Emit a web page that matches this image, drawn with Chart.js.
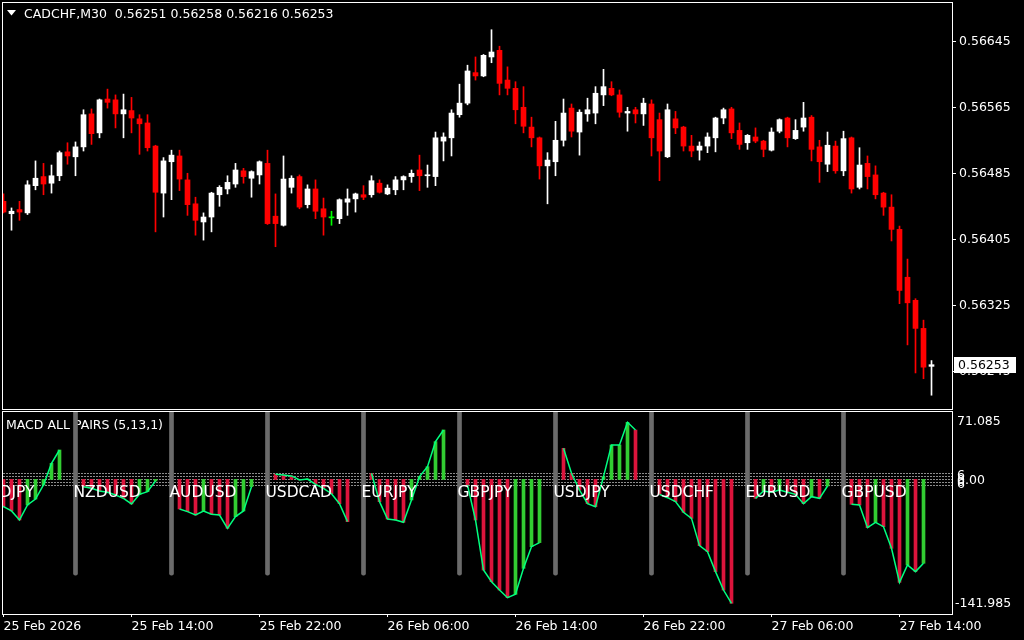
<!DOCTYPE html>
<html lang="en">
<head>
<meta charset="UTF-8">
<title>CADCHF,M30 - MACD ALL PAIRS</title>
<style>
    html, body {
        margin: 0;
        padding: 0;
        background: #000;
    }

    body {
        position: relative;
        width: 1024px;
        height: 640px;
        overflow: hidden;
    }

    #price-wrap {
        position: absolute;
        left: 0;
        top: 0;
        width: 1024px;
        height: 410px;
    }

    #macd-wrap {
        position: absolute;
        left: 0;
        top: 410px;
        width: 1024px;
        height: 230px;
    }
</style>
</head>
<body>
<div id="price-wrap"><canvas id="price-chart"></canvas></div>
<div id="macd-wrap"><canvas id="macd-chart"></canvas></div>
<script src="https://cdn.jsdelivr.net/npm/chart.js@4.4.1/dist/chart.umd.min.js"></script>
<script>
    // CADCHF M30 candles, bar 0 = 25 Feb 06:00
    const opens = [
        0.56451, 0.56436, 0.56441, 0.56437, 0.56470, 0.56481, 0.56473, 0.56482, 0.56511, 0.56505,
        0.56517, 0.56557, 0.56534, 0.56575, 0.56574, 0.56557, 0.56561, 0.56551, 0.56546, 0.56518,
        0.56461, 0.56499, 0.56506, 0.56477, 0.56448, 0.56426, 0.56432, 0.56459, 0.56466, 0.56472,
        0.56488, 0.56479, 0.56483, 0.56497, 0.56433, 0.56422, 0.56468, 0.56481, 0.56447, 0.56466,
        0.56442, 0.56431, 0.56430, 0.56450, 0.56454, 0.56459, 0.56459, 0.56473, 0.56460, 0.56465,
        0.56477, 0.56481, 0.56489, 0.56482, 0.56481, 0.56524, 0.56528, 0.56556, 0.56570, 0.56607,
        0.56603, 0.56626, 0.56634, 0.56598, 0.56588, 0.56565, 0.56541, 0.56528, 0.56494, 0.56499,
        0.56525, 0.56564, 0.56535, 0.56557, 0.56558, 0.56580, 0.56588, 0.56580, 0.56558, 0.56562,
        0.56557, 0.56569, 0.56550, 0.56505, 0.56551, 0.56541, 0.56518, 0.56513, 0.56518, 0.56528,
        0.56552, 0.56563, 0.56537, 0.56522, 0.56529, 0.56524, 0.56513, 0.56536, 0.56552, 0.56527,
        0.56541, 0.56553, 0.56517, 0.56496, 0.56518, 0.56488, 0.56528, 0.56468, 0.56497, 0.56483,
        0.56461, 0.56444, 0.56417, 0.56359, 0.56331, 0.56297, 0.56251
    ];
    const highs = [
        0.56460, 0.56443, 0.56451, 0.56476, 0.56500, 0.56497, 0.56495, 0.56512, 0.56522, 0.56523,
        0.56562, 0.56563, 0.56575, 0.56587, 0.56580, 0.56581, 0.56577, 0.56556, 0.56556, 0.56519,
        0.56504, 0.56513, 0.56513, 0.56485, 0.56456, 0.56437, 0.56462, 0.56470, 0.56482, 0.56497,
        0.56491, 0.56488, 0.56500, 0.56513, 0.56460, 0.56506, 0.56482, 0.56483, 0.56471, 0.56477,
        0.56455, 0.56439, 0.56454, 0.56466, 0.56461, 0.56470, 0.56482, 0.56477, 0.56471, 0.56481,
        0.56482, 0.56489, 0.56507, 0.56495, 0.56535, 0.56534, 0.56562, 0.56593, 0.56616, 0.56626,
        0.56629, 0.56659, 0.56639, 0.56614, 0.56596, 0.56590, 0.56553, 0.56529, 0.56510, 0.56548,
        0.56575, 0.56569, 0.56562, 0.56576, 0.56590, 0.56611, 0.56596, 0.56586, 0.56565, 0.56565,
        0.56576, 0.56574, 0.56558, 0.56569, 0.56560, 0.56542, 0.56531, 0.56523, 0.56534, 0.56553,
        0.56564, 0.56565, 0.56546, 0.56532, 0.56540, 0.56525, 0.56540, 0.56551, 0.56553, 0.56550,
        0.56571, 0.56555, 0.56525, 0.56535, 0.56524, 0.56536, 0.56529, 0.56516, 0.56506, 0.56494,
        0.56462, 0.56459, 0.56421, 0.56381, 0.56333, 0.56307, 0.56258
    ];
    const lows = [
        0.56437, 0.56416, 0.56428, 0.56435, 0.56465, 0.56459, 0.56461, 0.56476, 0.56496, 0.56482,
        0.56512, 0.56520, 0.56528, 0.56564, 0.56540, 0.56528, 0.56534, 0.56508, 0.56512, 0.56414,
        0.56432, 0.56453, 0.56464, 0.56434, 0.56410, 0.56404, 0.56414, 0.56445, 0.56460, 0.56468,
        0.56473, 0.56456, 0.56472, 0.56423, 0.56396, 0.56421, 0.56461, 0.56442, 0.56443, 0.56430,
        0.56410, 0.56422, 0.56424, 0.56434, 0.56438, 0.56453, 0.56456, 0.56461, 0.56459, 0.56459,
        0.56465, 0.56474, 0.56464, 0.56468, 0.56470, 0.56500, 0.56506, 0.56553, 0.56568, 0.56598,
        0.56602, 0.56619, 0.56580, 0.56580, 0.56545, 0.56534, 0.56517, 0.56478, 0.56448, 0.56482,
        0.56518, 0.56529, 0.56507, 0.56548, 0.56545, 0.56567, 0.56579, 0.56553, 0.56536, 0.56546,
        0.56543, 0.56506, 0.56476, 0.56504, 0.56533, 0.56512, 0.56505, 0.56501, 0.56510, 0.56511,
        0.56545, 0.56527, 0.56514, 0.56514, 0.56522, 0.56505, 0.56512, 0.56534, 0.56517, 0.56526,
        0.56536, 0.56500, 0.56474, 0.56487, 0.56485, 0.56482, 0.56461, 0.56466, 0.56466, 0.56454,
        0.56434, 0.56403, 0.56327, 0.56277, 0.56243, 0.56236, 0.56216
    ];
    const closes = [
        0.56438, 0.56439, 0.56438, 0.56471, 0.56479, 0.56472, 0.56482, 0.56510, 0.56506, 0.56517,
        0.56556, 0.56533, 0.56574, 0.56571, 0.56557, 0.56562, 0.56552, 0.56545, 0.56516, 0.56462,
        0.56500, 0.56507, 0.56478, 0.56447, 0.56428, 0.56432, 0.56461, 0.56468, 0.56474, 0.56489,
        0.56481, 0.56487, 0.56499, 0.56424, 0.56424, 0.56478, 0.56479, 0.56444, 0.56466, 0.56439,
        0.56432, 0.56431, 0.56453, 0.56454, 0.56460, 0.56456, 0.56476, 0.56462, 0.56467, 0.56477,
        0.56481, 0.56485, 0.56482, 0.56483, 0.56528, 0.56529, 0.56558, 0.56570, 0.56609, 0.56603,
        0.56628, 0.56632, 0.56594, 0.56588, 0.56562, 0.56542, 0.56528, 0.56494, 0.56501, 0.56525,
        0.56558, 0.56536, 0.56559, 0.56562, 0.56582, 0.56590, 0.56580, 0.56559, 0.56560, 0.56557,
        0.56570, 0.56528, 0.56512, 0.56562, 0.56540, 0.56518, 0.56512, 0.56518, 0.56529, 0.56552,
        0.56562, 0.56534, 0.56520, 0.56531, 0.56524, 0.56514, 0.56535, 0.56550, 0.56528, 0.56537,
        0.56552, 0.56514, 0.56499, 0.56519, 0.56488, 0.56527, 0.56466, 0.56495, 0.56481, 0.56459,
        0.56444, 0.56417, 0.56343, 0.56328, 0.56297, 0.56250, 0.56253
    ];

    const priceTicks = [0.56645, 0.56565, 0.56485, 0.56405, 0.56325, 0.56245];
    const timeTickBars = [0, 16, 32, 48, 64, 80, 96, 112];
    const timeLabels = ['25 Feb 2026', '25 Feb 14:00', '25 Feb 22:00', '26 Feb 06:00',
        '26 Feb 14:00', '26 Feb 22:00', '27 Feb 06:00', '27 Feb 14:00'];

    // MACD(5,13,1) per pair, 10 bars each; pair k covers bars 12k-2 .. 12k+7
    const pairNames = ['AUDJPY', 'NZDUSD', 'AUDUSD', 'USDCAD', 'EURJPY',
        'GBPJPY', 'USDJPY', 'USDCHF', 'EURUSD', 'GBPUSD'];
    const macdAUDJPY = [-22.0, -26.0, -28.8, -33.3, -42.8, -27.0, -20.7, -5.9, 16.9, 31.0];
    const macdNZDUSD = [-7.7, -9.4, -12.2, -13.6, -16.5, -20.0, -25.9, -15.8, -12.9, -1.7];
    const macdAUDUSD = [-31.2, -34.0, -37.6, -33.3, -36.8, -37.6, -51.6, -39.3, -33.3, -7.7];
    const macdUSDCAD = [5.3, 4.7, 3.7, -0.6, 0.4, -5.2, -9.4, -15.1, -25.6, -44.6];
    const macdEURJPY = [6.4, -23.5, -41.8, -42.8, -45.3, -21.7, 2.9, 13.4, 39.8, 52.1];
    const macdGBPJPY = [-5.9, -42.8, -95.6, -107.9, -116.7, -124.8, -121.2, -93.8, -71.0, -66.7];
    const macdUSDJPY = [32.8, 6.4, -11.2, -25.6, -28.8, 2.9, 36.3, 36.3, 60.2, 52.1];
    const macdUSDCHF = [-15.8, -19.3, -23.5, -34.7, -41.1, -69.9, -76.2, -97.3, -116.7, -130.7];
    const macdEURUSD = [-20.0, -12.2, -13.6, -11.2, -13.6, -15.8, -25.6, -18.2, -20.0, -7.0];
    const macdGBPUSD = [-26.3, -27.0, -50.9, -45.3, -49.9, -72.7, -108.6, -90.3, -97.3, -88.5];
    const macdLevels = [6.4, 3.2, 0, -3.2, -6.4];
    const macdMax = 71.085;
    const macdMin = -141.985;
    const separatorSpan = [-101, 75];

    const FONT = '"DejaVu Sans", sans-serif';
    Chart.defaults.font.family = FONT;
    Chart.defaults.font.size = 12.5;
    Chart.defaults.color = '#ffffff';

    const X_MIN = -0.0625, X_MAX = 118.5625;

    const candleColor = i => closes[i] > opens[i] ? '#ffffff' : (closes[i] < opens[i] ? '#ff0000' : '#00ff00');
    const candleColors = opens.map((o, i) => candleColor(i));
    const wickData = highs.map((h, i) => ({x: i, y: [lows[i], h]}));
    const bodyData = opens.map((o, i) => ({x: i, y: [Math.min(o, closes[i]), Math.max(o, closes[i])]}));

    function fixWidth(w) {
        return scale => {
            scale.width = w;
            scale.paddingTop = 0;
            scale.paddingBottom = 0;
        };
    }

    const priceDecor = {
        id: 'priceDecor',
        beforeDraw(chart) {
            const ctx = chart.ctx;
            ctx.save();
            ctx.fillStyle = '#000';
            ctx.fillRect(0, 0, chart.width, chart.height);
            ctx.restore();
        },
        afterDraw(chart) {
            const ctx = chart.ctx;
            const a = chart.chartArea;
            ctx.save();
            ctx.strokeStyle = '#ffffff';
            ctx.lineWidth = 1;
            ctx.strokeRect(a.left - 0.5, a.top - 0.5, a.right - a.left + 1, a.bottom - a.top + 1);

            // title
            ctx.fillStyle = '#ffffff';
            ctx.beginPath();
            ctx.moveTo(7, 10);
            ctx.lineTo(16, 10);
            ctx.lineTo(11.5, 15.5);
            ctx.closePath();
            ctx.fill();
            ctx.font = '12.5px ' + FONT;
            ctx.textBaseline = 'alphabetic';
            ctx.textAlign = 'left';
            const last = closes.length - 1;
            ctx.fillText('CADCHF,M30  ' + [opens[last], highs[last], lows[last], closes[last]]
                .map(v => v.toFixed(5)).join(' '), 24, 18);

            // current price box
            const y = chart.scales.y.getPixelForValue(closes[last]);
            ctx.fillRect(954, Math.round(y) - 8, 62, 16);
            ctx.fillStyle = '#000';
            ctx.textBaseline = 'middle';
            ctx.fillText(closes[last].toFixed(5), 958, Math.round(y) + 0.5);
            ctx.restore();
        }
    };

    new Chart('price-chart', {
        type: 'bar',
        data: {
            datasets: [{
                data: bodyData,
                backgroundColor: candleColors,
                barThickness: 5,
                minBarLength: 1,
                grouped: false,
                borderWidth: 0
            }, {
                data: wickData,
                backgroundColor: candleColors,
                barThickness: 1,
                grouped: false,
                borderWidth: 0
            }]
        },
        options: {
            responsive: true,
            maintainAspectRatio: false,
            animation: false,
            devicePixelRatio: 1,
            events: [],
            layout: {padding: {left: 3, top: 3, right: 0, bottom: 1}},
            plugins: {legend: {display: false}, tooltip: {enabled: false}},
            scales: {
                x: {type: 'linear', min: X_MIN, max: X_MAX, offset: false, display: false},
                y: {
                    position: 'right',
                    min: 0.561993,
                    max: 0.566914,
                    afterBuildTicks: s => { s.ticks = priceTicks.map(v => ({value: v})); },
                    afterFit: fixWidth(72),
                    ticks: {color: '#ffffff', padding: 3, callback: v => v.toFixed(5)},
                    grid: {drawOnChartArea: false, tickLength: 4, color: '#ffffff'},
                    border: {color: '#ffffff'}
                }
            }
        },
        plugins: [priceDecor]
    });

    // ---- MACD window ----
    const macdSeries = [macdAUDJPY, macdNZDUSD, macdAUDUSD, macdUSDCAD, macdEURJPY,
        macdGBPJPY, macdUSDJPY, macdUSDCHF, macdEURUSD, macdGBPUSD];
    const histData = [], histColors = [], lineData = [], sepData = [];
    macdSeries.forEach((vals, k) => {
        const start = 12 * k - 2;
        sepData.push({x: start - 1, y: separatorSpan});
        vals.forEach((v, j) => {
            histData.push({x: start + j, y: v});
            histColors.push(j > 0 && v >= vals[j - 1] ? '#32cd32' : '#dc143c');
            lineData.push({x: start + j, y: v});
        });
        lineData.push({x: start + 10, y: null});
    });

    const macdDecor = {
        id: 'macdDecor',
        beforeDraw(chart) {
            const ctx = chart.ctx;
            ctx.save();
            ctx.fillStyle = '#000';
            ctx.fillRect(0, 0, chart.width, chart.height);
            ctx.restore();
        },
        beforeDatasetsDraw(chart) {
            const ctx = chart.ctx;
            const a = chart.chartArea;
            const ys = chart.scales.y;
            ctx.save();
            ctx.strokeStyle = '#8c8c8c';
            ctx.lineWidth = 1;
            ctx.setLineDash([2, 1]);
            macdLevels.forEach(l => {
                const y = Math.round(ys.getPixelForValue(l)) + 0.5;
                ctx.beginPath();
                ctx.moveTo(a.left, y);
                ctx.lineTo(a.right, y);
                ctx.stroke();
            });
            ctx.setLineDash([]);
            ctx.fillStyle = '#ffffff';
            ctx.font = '12.5px ' + FONT;
            ctx.textAlign = 'left';
            ctx.textBaseline = 'alphabetic';
            ctx.fillText('MACD ALL PAIRS (5,13,1)', 6, a.top + 17);
            ctx.restore();
        },
        afterDatasetsDraw(chart) {
            const ctx = chart.ctx;
            const a = chart.chartArea;
            const xs = chart.scales.x, ys = chart.scales.y;
            ctx.save();
            ctx.beginPath();
            ctx.rect(a.left, a.top, a.right - a.left, a.bottom - a.top);
            ctx.clip();
            ctx.fillStyle = '#ffffff';
            ctx.font = '15.5px ' + FONT;
            ctx.textAlign = 'left';
            ctx.textBaseline = 'alphabetic';
            const y0 = ys.getPixelForValue(0);
            pairNames.forEach((name, k) => {
                ctx.fillText(name, xs.getPixelForValue(12 * k - 3) - 2, y0 + 18);
            });
            ctx.restore();
        },
        afterDraw(chart) {
            const ctx = chart.ctx;
            const a = chart.chartArea;
            const ys = chart.scales.y;
            ctx.save();
            ctx.strokeStyle = '#ffffff';
            ctx.lineWidth = 1;
            ctx.strokeRect(a.left - 0.5, a.top - 0.5, a.right - a.left + 1, a.bottom - a.top + 1);
            ctx.fillStyle = '#ffffff';
            ctx.font = '12.5px ' + FONT;
            ctx.textAlign = 'left';
            ctx.textBaseline = 'middle';
            ctx.fillText(macdMax.toFixed(3), 957, ys.getPixelForValue(macdMax) + 10);
            ctx.fillText(macdMin.toFixed(3), 955, ys.getPixelForValue(macdMin) - 10);
            const y0 = ys.getPixelForValue(0);
            ctx.fillText('6', 957, y0 - 4);
            ctx.fillText('0', 957, y0 + 3);
            ctx.fillText('6', 957, y0 + 5);
            ctx.fillText('0.00', 957, y0 + 1);
            ctx.restore();
        }
    };

    new Chart('macd-chart', {
        type: 'bar',
        data: {
            datasets: [{
                type: 'line',
                data: lineData,
                borderColor: '#00ff7f',
                borderWidth: 1.5,
                pointRadius: 0,
                spanGaps: false,
                tension: 0,
                order: 0
            }, {
                data: histData,
                backgroundColor: histColors,
                barThickness: 3,
                grouped: false,
                borderWidth: 0,
                order: 1
            }, {
                data: sepData,
                backgroundColor: '#6b6b6b',
                barThickness: 4,
                grouped: false,
                borderWidth: 0,
                borderRadius: 2,
                borderSkipped: false,
                order: 2
            }]
        },
        options: {
            responsive: true,
            maintainAspectRatio: false,
            animation: false,
            devicePixelRatio: 1,
            events: [],
            layout: {padding: {left: 3, top: 2, right: 0, bottom: 0}},
            plugins: {legend: {display: false}, tooltip: {enabled: false}},
            scales: {
                x: {
                    type: 'linear',
                    min: X_MIN,
                    max: X_MAX,
                    offset: false,
                    afterBuildTicks: s => { s.ticks = timeTickBars.map(v => ({value: v})); },
                    afterFit: s => { s.height = 26; s.paddingLeft = 0; s.paddingRight = 0; },
                    ticks: {
                        color: '#ffffff',
                        autoSkip: false,
                        maxRotation: 0,
                        align: 'start',
                        padding: 2,
                        callback: v => timeLabels[timeTickBars.indexOf(v)]
                    },
                    grid: {drawOnChartArea: false, offset: false, tickLength: 3, color: '#ffffff'},
                    border: {color: '#ffffff'}
                },
                y: {
                    position: 'right',
                    min: macdMin,
                    max: macdMax,
                    afterFit: fixWidth(72),
                    ticks: {display: false},
                    grid: {display: false},
                    border: {color: '#ffffff'}
                }
            }
        },
        plugins: [macdDecor]
    });
</script>
</body>
</html>
